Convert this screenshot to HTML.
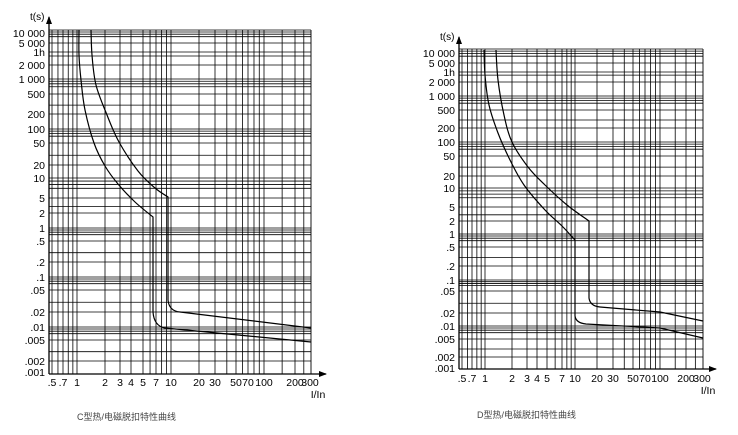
<!DOCTYPE html>
<html><head><meta charset="utf-8"><style>
html,body{margin:0;padding:0;background:#fff;}
svg{display:block;font-family:"Liberation Sans","Noto Sans CJK SC",sans-serif;}
</style></head><body>
<svg id="s" width="738" height="435" viewBox="0 0 738 435" xmlns="http://www.w3.org/2000/svg">
<g id="g"></g>
<g id="c" fill="none" stroke="#000" stroke-width="1.2"></g>
<text x="77" y="420" font-size="9" fill="#444">C型热/电磁脱扣特性曲线</text>
<text x="477" y="418" font-size="9" fill="#444">D型热/电磁脱扣特性曲线</text>
</svg>
<script>
var g=document.getElementById('g'),NS="http://www.w3.org/2000/svg";
function el(t,a,txt,p){var e=document.createElementNS(NS,t);for(var k in a)e.setAttribute(k,a[k]);if(txt)e.textContent=txt;(p||g).appendChild(e);return e;}
function interp(map,v){for(var i=0;i<map.length-1;i++){var a=map[i],b=map[i+1];if(v>=a[0]&&v<=b[0]){var f=(Math.log(v)-Math.log(a[0]))/(Math.log(b[0])-Math.log(a[0]));return a[1]+f*(b[1]-a[1]);}}return null;}
function smooth(pts){var d='M'+pts[0][0]+','+pts[0][1];for(var i=0;i<pts.length-1;i++){var p0=pts[i-1]||pts[i],p1=pts[i],p2=pts[i+1],p3=pts[i+2]||p2;
 var c1x=p1[0]+(p2[0]-p0[0])/6,c1y=p1[1]+(p2[1]-p0[1])/6,c2x=p2[0]-(p3[0]-p1[0])/6,c2y=p2[1]-(p3[1]-p1[1])/6;
 d+=' C'+c1x.toFixed(1)+','+c1y.toFixed(1)+' '+c2x.toFixed(1)+','+c2y.toFixed(1)+' '+p2[0]+','+p2[1];}return d;}
var C=document.getElementById('c');
function curve(th,rest){el('path',{d:smooth(th)+' '+rest},null,C);}
curve([[79,30],[79,55],[81,80],[85,110],[94,143],[105,166],[118,184],[135,202],[153,217]],'L153,312 Q154,326 165,328 L311,342');
curve([[91,30],[92,55],[96,85],[107,115],[119,142],[138,171],[155,188],[168,197]],'L168,300 Q169,311 180,312 L311,328');
curve([[484,50],[485,75],[489,105],[498,133],[510,160],[524,185],[545,210],[562,226],[575,240]],'L575,316 Q576,323 586,324 L660,328 L703,338');
curve([[496,50],[498,80],[504,115],[512,142],[528,167],[545,185],[567,205],[589,221]],'L589,298 Q590,306 600,307 L660,312 L703,321');
function chart(c){
 var L=c.L,R=c.R,T=c.T,B=c.B;
 var xs=[0.5,0.6,0.7,0.8,0.9,1,2,3,4,5,6,7,8,9,10,20,30,40,50,60,70,80,90,100,150,200,250,300];
 xs.forEach(function(v){var x=interp(c.xm,v);if(x!=null&&x>L+1&&x<R-0.5)el('line',{x1:x,x2:x,y1:T,y2:B,stroke:'#000','stroke-width':0.8});});
 var ys=[];for(var k=-3;k<=4;k++)[1,2,3,5,7,8,9].forEach(function(m){ys.push(m*Math.pow(10,k));});
 ys.push(3600);
 ys.forEach(function(v){var y=interp(c.ym,v);if(y!=null&&y>=T&&y<B-1)el('line',{x1:L,x2:R,y1:y,y2:y,stroke:'#000','stroke-width':0.8});});
 el('line',{x1:R,x2:R,y1:T,y2:B,stroke:'#000','stroke-width':0.9});
 el('line',{x1:L,x2:L,y1:B,y2:c.AT,stroke:'#000','stroke-width':1.3});
 el('line',{x1:L,x2:c.AR,y1:B,y2:B,stroke:'#000','stroke-width':1.3});
 el('path',{d:'M'+(L-3)+','+(c.AT+7)+' L'+L+','+(c.AT-1)+' L'+(L+3)+','+(c.AT+7)+'Z',fill:'#000'});
 el('path',{d:'M'+(c.AR-7)+','+(B-3)+' L'+(c.AR+1)+','+B+' L'+(c.AR-7)+','+(B+3)+'Z',fill:'#000'});
 el('text',{x:L-19,y:c.AT+3,'font-size':10},'t(s)');
 c.yl.forEach(function(p){el('text',{x:L-4,y:p[1]+4,'font-size':10.5,'text-anchor':'end'},p[0]);});
 c.xl.forEach(function(p){el('text',{x:p[1],y:c.XY,'font-size':10.5,'text-anchor':'middle'},p[0]);});
 el('text',{x:c.IX,y:c.IY,'font-size':10.5,'text-anchor':'middle'},'I/In');
}
chart({L:49,R:311,T:30,B:374,AT:17,AR:326,XY:386,IX:318,IY:398,
 xm:[[0.5,52],[0.7,63],[1,77],[2,105],[3,120],[4,131],[5,143],[7,156],[10,171],[20,199],[30,215],[50,236],[70,248],[100,264],[200,295],[300,311]],
 ym:[[0.001,374],[0.002,361],[0.005,340],[0.01,327],[0.02,312],[0.05,290],[0.1,277],[0.2,262],[0.5,241],[1,228],[2,213],[5,198],[10,178],[20,165],[50,143],[100,129],[200,114],[500,94],[1000,79],[2000,65],[3600,52],[5000,43],[10000,30]],
 yl:[['10 000',33],['5 000',43],['1h',52],['2 000',65],['1 000',79],['500',94],['200',114],['100',129],['50',143],['20',165],['10',178],['5',198],['2',213],['1',228],['.5',241],['.2',262],['.1',277],['.05',290],['.02',312],['.01',327],['.005',340],['.002',361],['.001',372]],
 xl:[['.5',52],['.7',63],['1',77],['2',105],['3',120],['4',131],['5',143],['7',156],['10',171],['20',199],['30',215],['50',236],['70',248],['100',264],['200',295],['300',310]]});
chart({L:459,R:703,T:49,B:369,AT:37,AR:716,XY:382,IX:708,IY:394,
 xm:[[0.5,462],[0.7,472],[1,485],[2,512],[3,527],[4,537],[5,547],[7,562],[10,575],[20,597],[30,613],[50,633],[70,645],[100,660],[200,686],[300,703]],
 ym:[[0.001,369],[0.002,357],[0.005,339],[0.01,326],[0.02,313],[0.05,291],[0.1,280],[0.2,266],[0.5,247],[1,234],[2,221],[5,207],[10,188],[20,176],[50,156],[100,142],[200,128],[500,110],[1000,96],[2000,82],[3600,72],[5000,63],[10000,49]],
 yl:[['10 000',53],['5 000',63],['1h',72],['2 000',82],['1 000',96],['500',110],['200',128],['100',142],['50',156],['20',176],['10',188],['5',207],['2',221],['1',234],['.5',247],['.2',266],['.1',280],['.05',291],['.02',313],['.01',326],['.005',339],['.002',357],['.001',368]],
 xl:[['.5',462],['.7',472],['1',485],['2',512],['3',527],['4',537],['5',547],['7',562],['10',575],['20',597],['30',613],['50',633],['70',645],['100',660],['200',686],['300',702]]});
</script>
</body></html>
